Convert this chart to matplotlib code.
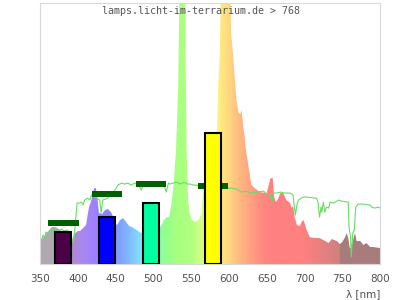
import numpy as np
import matplotlib
matplotlib.use("Agg")
import matplotlib.pyplot as plt
from matplotlib.colors import LinearSegmentedColormap
from matplotlib.patches import Polygon

# lamp spectrum (arbitrary units, peaks run off the top)
spec_nm = [350, 352, 356, 361, 366, 370, 375, 380, 385, 390, 392, 395, 400, 403, 407,
           411, 413, 415, 418, 420, 422, 424, 426, 428, 432, 436, 440, 444, 448, 450,
           452, 456, 460, 464, 468, 472, 476, 480, 484, 488, 500, 508, 510, 514, 518,
           521, 524, 527, 530, 533, 535, 542, 543, 544, 546, 548, 551, 555, 560, 564,
           566, 568, 572, 580, 584, 586, 588, 590, 601, 603, 605, 608, 610, 613, 615,
           617, 619, 621, 622, 624, 628, 630, 634, 641, 650, 653, 655, 658, 660, 662,
           665, 668, 672, 676, 681, 683, 685, 687, 690, 694, 696, 699, 701, 703, 707,
           712, 720, 725, 732, 736, 743, 747, 750, 754, 756, 758, 760, 762, 765, 767,
           769, 774, 778, 782, 787, 791, 800]
spec_val = [22, 24, 28, 33, 37, 37, 35, 30, 25, 20, 21, 30, 33, 33, 36,
            39, 49, 57, 64, 72, 76, 76, 66, 51, 50, 54, 55, 52, 45, 40,
            39, 44, 46, 42, 38, 37, 35, 33, 31, 32, 34, 36, 38, 44, 47,
            47, 60, 81, 114, 180, 300, 300, 181, 114, 64, 51, 44, 42, 44, 51,
            77, 90, 100, 120, 130, 181, 211, 300, 300, 231, 214, 184, 164, 151, 150,
            154, 137, 127, 117, 107, 87, 79, 76, 72, 71, 80, 86, 86, 67, 62,
            65, 71, 71, 64, 61, 56, 58, 47, 39, 38, 42, 44, 39, 34, 27,
            26, 26, 24, 21, 25, 23, 20, 22, 27, 31, 26, 16, 16, 26, 31,
            23, 23, 19, 21, 17, 17, 16]

# green reference curve
ref_nm = [350, 352, 354, 356, 358, 361, 364, 367, 370, 374, 378, 382, 386, 390, 392,
          394, 396, 398, 399, 402, 405, 407, 409, 413, 416, 418, 421, 425, 429, 431,
          433, 437, 440, 442, 447, 451, 453, 458, 462, 466, 471, 475, 480, 484, 486,
          490, 495, 500, 505, 510, 514, 517, 520, 522, 526, 531, 536, 541, 545, 549,
          553, 557, 562, 570, 580, 590, 596, 602, 610, 617, 624, 628, 637, 646, 650,
          654, 657, 659, 663, 668, 674, 681, 685, 686, 688, 690, 692, 696, 699, 703,
          714, 716, 718, 720, 722, 723, 725, 727, 729, 732, 734, 738, 743, 745, 749,
          758, 759, 761, 762, 764, 766, 767, 768, 771, 778, 787, 789, 793, 798, 800]
ref_val = [27, 24, 29, 26, 32, 30, 34, 32, 34, 31, 35, 33, 34, 30, 26,
           21, 34, 51, 61, 61, 62, 59, 64, 66, 64, 69, 68, 66, 64, 51,
           64, 65, 66, 68, 72, 76, 79, 81, 80, 81, 79, 81, 80, 74, 78,
           80, 79, 82, 78, 81, 80, 72, 81, 80, 81, 82, 80, 82, 80, 80,
           79, 79, 78, 78, 77, 77, 76, 76, 75, 72, 73, 71, 72, 73, 70,
           71, 62, 71, 71, 72, 71, 71, 69, 61, 49, 59, 64, 66, 67, 67,
           66, 66, 62, 47, 57, 52, 62, 52, 57, 56, 62, 61, 63, 64, 63,
           62, 37, 27, 7, 31, 34, 47, 57, 60, 60, 59, 57, 56, 57, 56]

# channel bars and target marks
bar_nm = [380, 439, 497, 579]
bar_val = [32, 47, 61, 131]
bar_colors = ["#4b0048", "#0000ff", "#00ffa0", "#ffff00"]
mark_nm = [381, 439, 497, 579]
mark_val = [41, 70, 80, 78]

xticks = list(range(350, 801, 50))

stops = [(350, "#b0a8b0"), (382, "#b0a8b0"), (392, "#b088d0"), (405, "#a888f0"),
         (420, "#a080ff"), (440, "#8888ff"), (455, "#80a0ff"), (470, "#80c0ff"),
         (485, "#80e8ff"), (500, "#80ffc0"), (515, "#90ff90"), (530, "#a8ff80"),
         (550, "#b0ff80"), (565, "#d8ff80"), (580, "#ffff80"), (590, "#ffe880"),
         (600, "#ffd880"), (615, "#ffb880"), (630, "#ffa080"), (645, "#ff8880"),
         (660, "#ff8080"), (700, "#ff8080"), (747, "#d08080"), (748, "#a87c7c"),
         (800, "#a87c7c")]
cmap = LinearSegmentedColormap.from_list(
    "spec", [((w - 350) / 450, c) for w, c in stops])

fig = plt.figure(figsize=(4, 3), dpi=100)
ax = fig.add_axes([0.1, 0.12, 0.85, 0.869])
ymax = 261

grad = np.linspace(0, 1, 900)[None, :]
im = ax.imshow(grad, extent=[350, 800, 0, ymax], aspect="auto", cmap=cmap,
               origin="lower", zorder=1, interpolation="bilinear")
poly = Polygon(np.column_stack([[spec_nm[0]] + spec_nm + [spec_nm[-1]],
                                [0] + spec_val + [0]]),
               closed=True, facecolor="none", edgecolor="none", transform=ax.transData)
ax.add_patch(poly)
im.set_clip_path(poly)

ax.plot(ref_nm, ref_val, color="#66dd66", lw=0.8, zorder=2)
ax.bar(mark_nm, 6.7, bottom=np.array(mark_val) - 3.35, width=40, color="#006000", zorder=3)
ax.bar(bar_nm, bar_val, width=21, color=bar_colors, edgecolor="black", lw=1.5, zorder=4)

ax.set_xlim(350, 800)
ax.set_ylim(0, ymax)
ax.set_yticks([])
ax.set_xticks(xticks)
ax.tick_params(axis="x", length=0, pad=7, labelsize=7.5, labelcolor="#505050")
for s in ax.spines.values():
    s.set_color("#d8d8d8")
    s.set_linewidth(0.8)
ax.set_xlabel("λ [nm]", loc="right", fontsize=7.5, color="#505050", labelpad=4)

fig.text(0.5025, 0.963, "lamps.licht-im-terrarium.de > 768", family="DejaVu Sans Mono",
         fontsize=7.2, color="#555555", ha="center", va="center")

fig.savefig("out.png", dpi=100)
